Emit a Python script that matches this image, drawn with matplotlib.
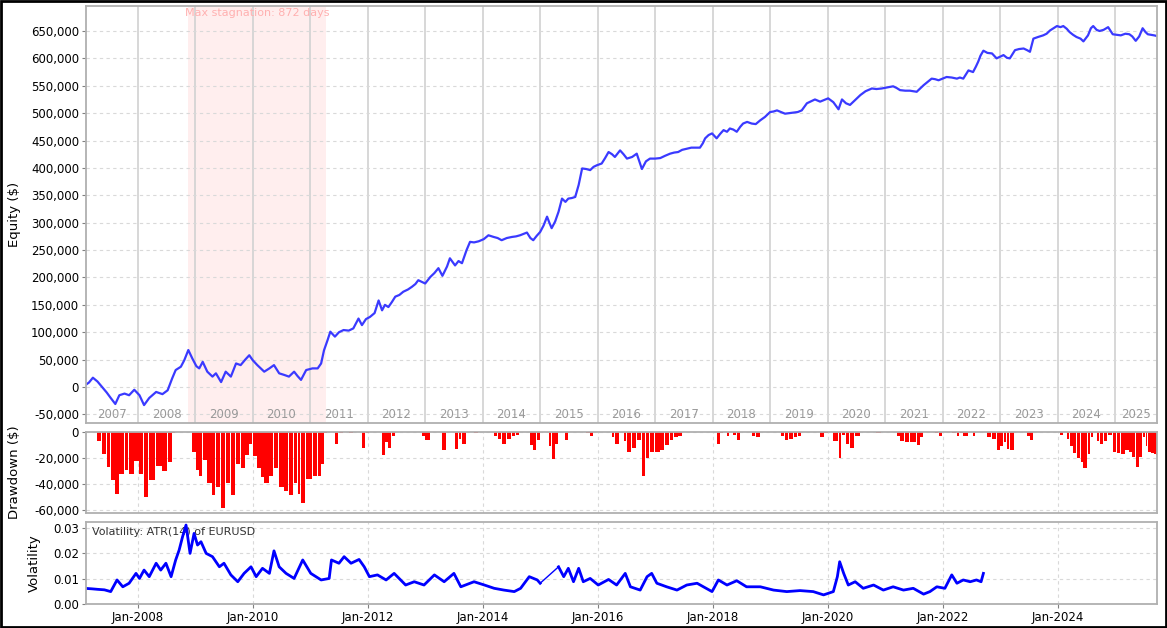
import numpy as np
import matplotlib
matplotlib.use('Agg')
import matplotlib.pyplot as plt
from matplotlib.patches import Rectangle

# --- Dados (tempo em anos decimais) ---
eq_t = [2007.08, 2007.15, 2007.22, 2007.30, 2007.38, 2007.46, 2007.53, 2007.61, 2007.68, 2007.77,
        2007.85, 2007.94, 2008.03, 2008.11, 2008.20, 2008.32, 2008.43, 2008.52, 2008.60, 2008.66,
        2008.75, 2008.81, 2008.88, 2008.95, 2009.02, 2009.07, 2009.13, 2009.21, 2009.30, 2009.36,
        2009.45, 2009.53, 2009.62, 2009.71, 2009.79, 2009.87, 2009.94, 2010.00, 2010.08, 2010.15,
        2010.20, 2010.29, 2010.37, 2010.46, 2010.55, 2010.63, 2010.72, 2010.78, 2010.84, 2010.93,
        2011.04, 2011.13, 2011.19, 2011.24, 2011.30, 2011.35, 2011.43, 2011.50, 2011.58, 2011.67,
        2011.75, 2011.84, 2011.90, 2011.97, 2012.04, 2012.12, 2012.19, 2012.25, 2012.30, 2012.36,
        2012.42, 2012.48, 2012.55, 2012.62, 2012.70, 2012.77, 2012.83, 2012.88, 2012.94, 2013.00,
        2013.09, 2013.16, 2013.23, 2013.30, 2013.38, 2013.43, 2013.52, 2013.58, 2013.64, 2013.72,
        2013.78, 2013.85, 2013.93, 2014.02, 2014.10, 2014.19, 2014.26, 2014.33, 2014.42, 2014.51,
        2014.58, 2014.65, 2014.72, 2014.77, 2014.83, 2014.88, 2014.94, 2015.00, 2015.06, 2015.12,
        2015.16, 2015.20, 2015.26, 2015.32, 2015.38, 2015.44, 2015.49, 2015.55, 2015.61, 2015.67,
        2015.73, 2015.80, 2015.87, 2015.93, 2015.99, 2016.07, 2016.13, 2016.19, 2016.25, 2016.30,
        2016.39, 2016.45, 2016.51, 2016.60, 2016.68, 2016.77, 2016.84, 2016.91, 2017.00, 2017.09,
        2017.17, 2017.26, 2017.33, 2017.40, 2017.47, 2017.55, 2017.63, 2017.70, 2017.78, 2017.83,
        2017.87, 2017.93, 2017.99, 2018.07, 2018.13, 2018.19, 2018.25, 2018.30, 2018.36, 2018.42,
        2018.48, 2018.53, 2018.60, 2018.68, 2018.75, 2018.83, 2018.91, 2019.00, 2019.06, 2019.12,
        2019.19, 2019.26, 2019.33, 2019.41, 2019.48, 2019.55, 2019.64, 2019.70, 2019.78, 2019.87,
        2019.94, 2020.01, 2020.10, 2020.19, 2020.25, 2020.32, 2020.39, 2020.48, 2020.57, 2020.66,
        2020.77, 2020.85, 2020.94, 2021.04, 2021.14, 2021.20, 2021.26, 2021.35, 2021.43, 2021.55,
        2021.61, 2021.67, 2021.74, 2021.81, 2021.87, 2021.93, 2022.00, 2022.07, 2022.16, 2022.25,
        2022.30, 2022.36, 2022.45, 2022.53, 2022.58, 2022.62, 2022.66, 2022.71, 2022.78, 2022.86,
        2022.94, 2023.00, 2023.06, 2023.12, 2023.17, 2023.26, 2023.33, 2023.41, 2023.47, 2023.52,
        2023.58, 2023.66, 2023.75, 2023.81, 2023.87, 2023.93, 2023.99, 2024.05, 2024.10, 2024.16,
        2024.21, 2024.27, 2024.33, 2024.40, 2024.45, 2024.53, 2024.58, 2024.62, 2024.68, 2024.73,
        2024.80, 2024.88, 2024.96, 2025.03, 2025.10, 2025.18, 2025.25, 2025.30, 2025.36, 2025.42,
        2025.48, 2025.53, 2025.57, 2025.63, 2025.68, 2025.72]
equity = [3000, 8000, 17000, 10000, 0, -10000, -20000, -31000, -15000, -12000,
          -15000, -5000, -15000, -33000, -20000, -9000, -13000, -6000, 16000, 31000,
          37000, 49000, 67500, 52000, 38000, 34000, 46000, 28000, 19000, 25000,
          9000, 28000, 19000, 43000, 40000, 50000, 58000, 49000, 40000, 33000,
          28000, 34000, 40000, 25000, 22000, 19000, 28000, 20000, 13000, 31000,
          34000, 34000, 43000, 67000, 85000, 101000, 92000, 100000, 104000, 103000,
          107000, 125000, 113000, 124000, 128000, 135000, 158000, 140000, 150000, 146000,
          155000, 165000, 168000, 174000, 178000, 183000, 188000, 195000, 192000, 189000,
          201000, 208000, 217000, 203000, 220000, 235000, 222000, 230000, 226000, 250000,
          265000, 264000, 266000, 270000, 277000, 274000, 272000, 268000, 272000, 274000,
          275000, 277000, 280000, 282000, 272000, 268000, 276000, 283000, 295000, 311000,
          300000, 290000, 302000, 320000, 344000, 338000, 344000, 345000, 347000, 369000,
          399000, 398000, 396000, 402000, 405000, 408000, 418000, 429000, 425000, 420000,
          432000, 425000, 417000, 420000, 426000, 398000, 412000, 417000, 417000, 418000,
          422000, 426000, 428000, 429000, 433000, 435000, 437000, 437000, 437000, 445000,
          454000, 460000, 463000, 454000, 462000, 469000, 466000, 472000, 470000, 466000,
          475000, 481000, 484000, 481000, 480000, 487000, 493000, 502000, 503000, 505000,
          502000, 499000, 500000, 501000, 502000, 505000, 518000, 521000, 525000, 521000,
          524000, 527000, 520000, 507000, 525000, 518000, 515000, 524000, 533000, 540000,
          545000, 544000, 545000, 547000, 549000, 546000, 542000, 541000, 541000, 539000,
          545000, 551000, 557000, 563000, 562000, 560000, 563000, 566000, 565000, 563000,
          565000, 563000, 578000, 575000, 585000, 594000, 605000, 614000, 610000, 609000,
          600000, 603000, 606000, 601000, 600000, 615000, 617000, 618000, 615000, 612000,
          636000, 639000, 642000, 645000, 651000, 655000, 659000, 657000, 659000, 654000,
          648000, 643000, 639000, 636000, 631000, 642000, 655000, 659000, 652000, 650000,
          652000, 657000, 644000, 643000, 642000, 645000, 644000, 640000, 632000, 640000,
          655000, 648000, 644000, 643000, 642000, 641000]

# Volatilidade ATR(14) - dois trechos (falta de dados no início de 2015)
vol_t1 = [2007.07, 2007.20, 2007.30, 2007.42, 2007.53, 2007.64, 2007.74, 2007.85, 2007.97, 2008.03,
          2008.11, 2008.20, 2008.32, 2008.40, 2008.49, 2008.58, 2008.66, 2008.72, 2008.78, 2008.84,
          2008.91, 2008.98, 2009.04, 2009.10, 2009.19, 2009.30, 2009.42, 2009.50, 2009.62, 2009.74,
          2009.85, 2009.97, 2010.06, 2010.17, 2010.29, 2010.37, 2010.46, 2010.58, 2010.72, 2010.87,
          2011.01, 2011.19, 2011.33, 2011.37, 2011.50, 2011.59, 2011.71, 2011.85, 2011.94, 2012.03,
          2012.17, 2012.32, 2012.46, 2012.66, 2012.81, 2012.98, 2013.16, 2013.33, 2013.50, 2013.62,
          2013.85, 2014.03, 2014.20, 2014.37, 2014.55, 2014.66, 2014.81, 2014.95, 2015.00]
vol_1 = [0.0062, 0.0060, 0.0058, 0.0056, 0.0049, 0.0095, 0.0068, 0.0082, 0.0121, 0.0101,
         0.0134, 0.0108, 0.0161, 0.0134, 0.0161, 0.0108, 0.0174, 0.0213, 0.0266, 0.0312,
         0.0200, 0.0279, 0.0233, 0.0246, 0.0200, 0.0187, 0.0147, 0.0161, 0.0115, 0.0088,
         0.0121, 0.0147, 0.0108, 0.0141, 0.0121, 0.0210, 0.0147, 0.0121, 0.0101, 0.0174,
         0.0121, 0.0095, 0.0101, 0.0174, 0.0161, 0.0187, 0.0161, 0.0176, 0.0147, 0.0108,
         0.0115, 0.0095, 0.0121, 0.0075, 0.0088, 0.0075, 0.0115, 0.0088, 0.0121, 0.0068,
         0.0088, 0.0075, 0.0062, 0.0055, 0.0049, 0.0062, 0.0108, 0.0095, 0.0082]
vol_t2 = [2015.32, 2015.41, 2015.49, 2015.58, 2015.67, 2015.75, 2015.87, 2016.01, 2016.19, 2016.33,
          2016.48, 2016.57, 2016.74, 2016.86, 2016.94, 2017.03, 2017.20, 2017.38, 2017.55, 2017.73,
          2017.84, 2017.99, 2018.10, 2018.25, 2018.42, 2018.59, 2018.83, 2019.06, 2019.29, 2019.52,
          2019.75, 2019.93, 2020.10, 2020.17, 2020.21, 2020.28, 2020.36, 2020.48, 2020.62, 2020.80,
          2020.97, 2021.14, 2021.32, 2021.49, 2021.67, 2021.78, 2021.90, 2022.04, 2022.16, 2022.25,
          2022.36, 2022.48, 2022.59, 2022.67, 2022.71]
vol_2 = [0.0147, 0.0108, 0.0141, 0.0088, 0.0141, 0.0088, 0.0101, 0.0075, 0.0097, 0.0075,
         0.0121, 0.0068, 0.0055, 0.0108, 0.0121, 0.0082, 0.0068, 0.0055, 0.0075, 0.0082,
         0.0068, 0.0049, 0.0095, 0.0075, 0.0092, 0.0068, 0.0068, 0.0055, 0.0049, 0.0053,
         0.0049, 0.0036, 0.0049, 0.0108, 0.0167, 0.0121, 0.0075, 0.0088, 0.0062, 0.0075,
         0.0055, 0.0068, 0.0055, 0.0062, 0.0039, 0.0049, 0.0068, 0.0062, 0.0115, 0.0082,
         0.0095, 0.0088, 0.0095, 0.0088, 0.0121]

STAGNACAO = (2008.88, 2011.27)   # período de estagnação máxima
ANOS = list(range(2007, 2026))
TICKS_DATA = [2008, 2010, 2012, 2014, 2016, 2018, 2020, 2022, 2024]
TICKS_DATA_LABELS = ['Jan-%d' % a for a in TICKS_DATA]
X_MIN, X_MAX = 2007.10, 2025.73

COR_GRADE = '#d9d9d9'
COR_BORDA = '#b0b0b0'
plt.rcParams['font.family'] = 'DejaVu Sans'
plt.rcParams['font.size'] = 8.5

def estilo_eixo(ax):
    for s in ax.spines.values():
        s.set_color(COR_BORDA)
        s.set_linewidth(1.3)
    ax.tick_params(axis='y', length=3, color='#808080', labelsize=8.5, pad=2)
    ax.grid(True, axis='y', color=COR_GRADE, linestyle=(0, (3, 3)), linewidth=0.8)
    ax.set_axisbelow(True)
    ax.set_xlim(X_MIN, X_MAX)

fig = plt.figure(figsize=(11.67, 6.28), dpi=100)
left, width = 86 / 1167, 1071 / 1167
ax_eq = fig.add_axes([left, 1 - 423 / 628, width, 417 / 628])
ax_dd = fig.add_axes([left, 1 - 513 / 628, width, 81 / 628])
ax_vol = fig.add_axes([left, 1 - 604 / 628, width, 82 / 628])

# --- Painel de capital ---
estilo_eixo(ax_eq)
ax_eq.axvspan(STAGNACAO[0], STAGNACAO[1], color='#ffeeee', zorder=0, linewidth=0)
for a in ANOS[1:]:
    ax_eq.axvline(a, color='#d4d4d4', linewidth=1.3, zorder=0.5)
ax_eq.plot(eq_t, equity, color='#3a3aff', linewidth=1.6)
ax_eq.set_ylim(-65700, 695600)
ax_eq.set_yticks(np.arange(-50000, 650001, 50000))
ax_eq.yaxis.set_major_formatter(matplotlib.ticker.FuncFormatter(lambda v, p: '{:,.0f}'.format(v)))
ax_eq.set_xticks([])
ax_eq.set_ylabel('Equity ($)', fontsize=9.5)
ax_eq.yaxis.set_label_coords(-0.061, 0.5)
for a in ANOS:
    ini, fim = max(a, X_MIN), min(a + 1, X_MAX)
    ax_eq.text((ini + fim) / 2, -50000, str(a), color='#999999', ha='center', va='center', fontsize=8.5)
ax_eq.text(sum(STAGNACAO) / 2, 683000, 'Max stagnation: 872 days', color='#ffb0b0',
           ha='center', va='center', fontsize=8)

# --- Painel de drawdown ---
estilo_eixo(ax_dd)
eq = np.array(equity, dtype=float)
dd = eq - np.maximum.accumulate(eq)
larg = np.diff(np.append(eq_t, X_MAX))
ax_dd.bar(eq_t, dd, width=larg * 0.85, align='edge', color='#ff0000', linewidth=0)
ax_dd.set_ylim(-62300, 0)
ax_dd.set_yticks([0, -20000, -40000, -60000])
ax_dd.yaxis.set_major_formatter(matplotlib.ticker.FuncFormatter(lambda v, p: '{:,.0f}'.format(v)))
ax_dd.set_xticks(TICKS_DATA)
ax_dd.tick_params(axis='x', length=0, labelbottom=False)
ax_dd.grid(True, axis='x', color=COR_GRADE, linestyle=(0, (3, 3)), linewidth=0.8)
ax_dd.set_ylabel('Drawdown ($)', fontsize=9.5)
ax_dd.yaxis.set_label_coords(-0.061, 0.5)

# --- Painel de volatilidade ---
estilo_eixo(ax_vol)
ax_vol.plot(vol_t1, vol_1, color='#0000ff', linewidth=2)
ax_vol.plot([vol_t1[-1], vol_t2[0]], [vol_1[-1], vol_2[0]], color='#0000ff', linewidth=1)
ax_vol.plot(vol_t2, vol_2, color='#0000ff', linewidth=2)
ax_vol.set_ylim(0, 0.0324)
ax_vol.set_yticks([0.0, 0.01, 0.02, 0.03])
ax_vol.yaxis.set_major_formatter(matplotlib.ticker.FormatStrFormatter('%.2f'))
ax_vol.set_xticks(TICKS_DATA)
ax_vol.set_xticklabels(TICKS_DATA_LABELS)
ax_vol.tick_params(axis='x', length=3, color='#808080', labelsize=8.5, pad=2)
ax_vol.grid(True, axis='x', color=COR_GRADE, linestyle=(0, (3, 3)), linewidth=0.8)
ax_vol.set_ylabel('Volatility', fontsize=9.5)
ax_vol.yaxis.set_label_coords(-0.042, 0.5)
ax_vol.text(0.006, 0.88, 'Volatility: ATR(14) of EURUSD', transform=ax_vol.transAxes,
            fontsize=8, color='#333333', va='center', ha='left', zorder=1)

# moldura preta em volta da figura
fig.patches.append(Rectangle((0.001, 0.002), 0.998, 0.996, transform=fig.transFigure,
                             fill=False, edgecolor='black', linewidth=2))

fig.savefig('out.png', dpi=100)
